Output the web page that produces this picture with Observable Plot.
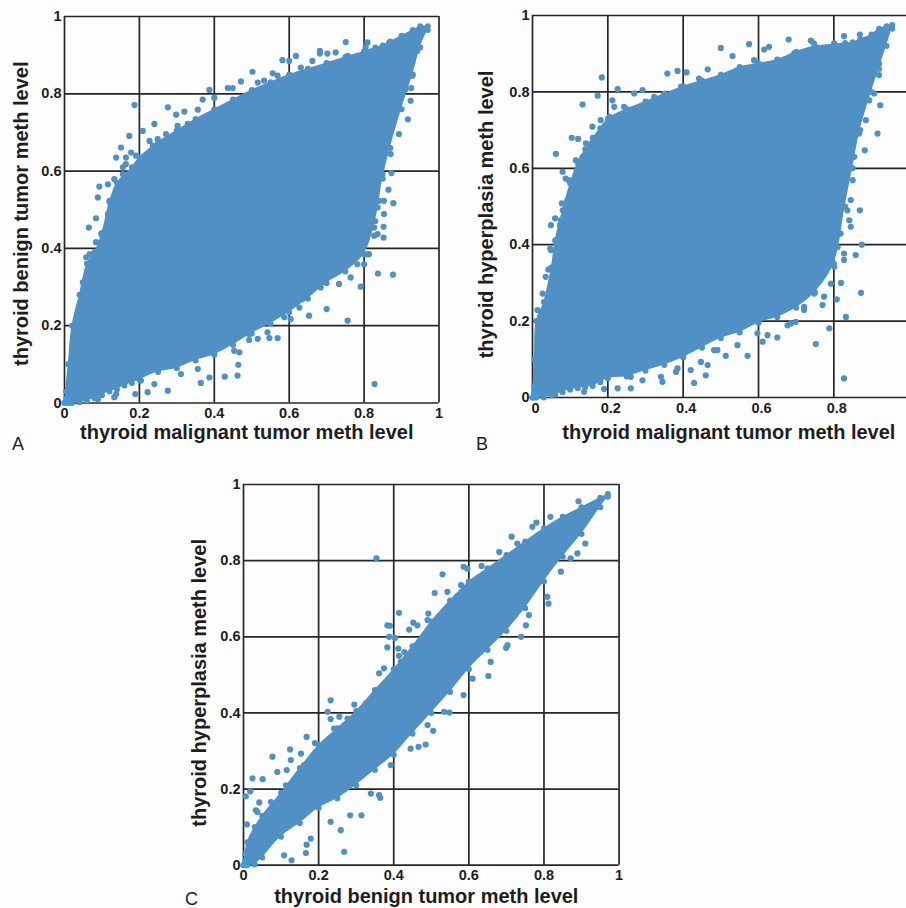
<!DOCTYPE html>
<html><head><meta charset="utf-8">
<script src="https://cdn.jsdelivr.net/npm/d3@7"></script>
<script src="https://cdn.jsdelivr.net/npm/@observablehq/plot@0.6"></script>
<style>
html,body{margin:0;padding:0;background:#fdfdfe;overflow:hidden}
#page{position:relative;width:906px;height:908px;overflow:hidden}
#page svg{position:absolute;background:transparent;overflow:visible}
.tag{position:absolute;font:18px "Liberation Sans",sans-serif;color:#222}
</style></head><body><div id="page"></div>
<script>
const gridTicks=[0,.2,.4,.6,.8,1];
const tickNames=["0","0.2","0.4","0.6","0.8","1"];

// Panel A: cloud envelope
const aX=[0,.01,.02,.04,.06,.08,.1,.12,.14,.16,.18,.2,.25,.3,.35,.4,.45,.5,.55,.6,.65,.7,.75,.8,.83,.85,.87,.9,.93,.95,.97];
const aUp=[0,.1,.2,.28,.36,.39,.44,.52,.57,.59,.61,.635,.675,.705,.735,.76,.785,.81,.83,.85,.865,.88,.895,.91,.92,.925,.935,.95,.965,.975,.975];
const aLo=[0,0,0,.002,.005,.012,.02,.03,.035,.045,.052,.06,.08,.09,.11,.125,.15,.18,.205,.235,.27,.31,.34,.385,.47,.58,.66,.76,.85,.92,.965];
// Panel A: outlying points
const aOutX=[.187,.276,.298,.32,.356,.369,.387,.4,.436,.449,.471,.502,.556,.582,.6,.618,.682,.682,.702,.724,.751,.809,.173,.151,.138,.178,.164,.093,.089,.084,.065,.209,.24,.116,.133,.877,.837,.791,.7,.756,.653,.604,.828,.462,.428,.464,.569,.547,.516,.493,.387,.364,.276,.189,.089,.133,.222,.917,.924,.926,.929,.878,.865,.873,.853,.852,.852,.827,.813,.8];
const aOutY=[.771,.765,.746,.754,.759,.785,.81,.79,.815,.815,.832,.857,.853,.887,.885,.898,.911,.904,.904,.907,.934,.933,.691,.661,.635,.648,.635,.56,.532,.478,.454,.704,.722,.566,.579,.332,.335,.301,.243,.213,.226,.217,.049,.071,.068,.099,.168,.168,.166,.163,.066,.052,.032,.023,.01,.015,.028,.734,.782,.815,.847,.517,.552,.595,.489,.456,.428,.433,.385,.359];
// Panel A: points along the edge of the cloud
const aEdgeX=[.049,.058,.067,.084,.098,.116,.12,.138,.156,.164,.156,.191,.187,.213,.227,.249,.271,.236,.302,.329,.364,.4,.436,.453,.516,.533,.569,.631,.662,.711,.756,.804,.867,.138,.204,.24,.311,.356,.4,.453,.467,.436,.471,.493,.542,.587,.627,.636,.684,.733,.764,.782,.809,.836,.827,.836,.853,.84,.849,.871,.893,.911,.898,.929,.942];
const aEdgeY=[.312,.377,.385,.416,.437,.489,.523,.553,.592,.618,.61,.64,.6,.635,.678,.683,.696,.666,.717,.722,.73,.756,.765,.782,.829,.834,.847,.868,.885,.877,.898,.92,.933,.023,.058,.049,.075,.088,.127,.135,.131,.161,.178,.178,.183,.222,.247,.269,.299,.308,.325,.359,.385,.437,.454,.506,.523,.523,.592,.644,.696,.812,.791,.881,.911];

// Panel B: cloud envelope
const bX=[0,.005,.01,.03,.05,.06,.08,.1,.12,.14,.16,.18,.2,.25,.3,.35,.4,.45,.5,.55,.6,.65,.7,.75,.8,.83,.85,.87,.9,.92,.94,.955];
const bUp=[0,.1,.2,.25,.34,.41,.49,.56,.615,.65,.68,.705,.73,.755,.775,.795,.815,.83,.845,.865,.875,.885,.905,.92,.925,.928,.93,.938,.95,.965,.972,.975];
const bLo=[0,0,0,0,.005,.007,.014,.02,.024,.027,.03,.04,.05,.055,.07,.085,.105,.13,.155,.17,.195,.21,.235,.275,.35,.5,.6,.7,.8,.86,.92,.965];
// Panel B: outlying points
const bOutX=[.184,.173,.133,.104,.121,.062,.08,.088,.097,.078,.06,.049,.073,.047,.042,.226,.27,.292,.358,.385,.409,.465,.5,.531,.575,.615,.628,.68,.739,.796,.827,.869,.923,.916,.882,.869,.874,.858,.819,.872,.808,.832,.788,.752,.827,.65,.611,.571,.513,.491,.465,.46,.429,.381,.345,.261,.226,.19,.137,.699,.677,.77,.721,.013,.845,.836,.827];
const bOutY=[.838,.79,.767,.68,.677,.638,.591,.573,.569,.508,.469,.451,.451,.39,.335,.807,.796,.805,.848,.855,.851,.859,.915,.894,.925,.911,.918,.937,.934,.911,.946,.95,.765,.691,.647,.49,.4,.373,.3,.274,.257,.211,.181,.14,.05,.157,.146,.109,.109,.124,.085,.058,.038,.067,.041,.024,.024,.022,.015,.198,.189,.242,.229,.229,.447,.49,.377];
// Panel B: points along the edge of the cloud
const bEdgeX=[.027,.035,.049,.062,.075,.093,.102,.115,.133,.115,.142,.159,.181,.204,.217,.212,.243,.27,.323,.35,.394,.442,.487,.544,.588,.65,.695,.747,.801,.181,.261,.292,.341,.385,.42,.447,.482,.544,.597,.624,.686,.721,.748,.774,.792,.801,.827,.81,.818,.841,.845,.823,.85,.854,.867,.885,.894,.907,.92,.92];
const bEdgeY=[.272,.316,.386,.412,.464,.517,.534,.578,.63,.621,.665,.709,.726,.735,.761,.778,.761,.752,.787,.791,.813,.835,.826,.857,.883,.883,.901,.927,.927,.05,.054,.045,.054,.076,.072,.093,.124,.137,.168,.163,.194,.237,.272,.264,.298,.342,.36,.394,.429,.464,.517,.534,.569,.63,.691,.726,.778,.796,.844,.874];

// Panel C: cloud envelope
const cX=[0,.01,.03,.05,.1,.15,.2,.25,.3,.35,.4,.45,.5,.55,.6,.65,.7,.75,.8,.85,.9,.95,.97];
const cUp=[0,.06,.1,.13,.19,.255,.315,.36,.405,.46,.515,.575,.64,.695,.745,.78,.815,.85,.885,.915,.94,.965,.975];
const cLo=[0,0,.002,.02,.075,.11,.15,.175,.21,.25,.29,.345,.4,.455,.515,.565,.615,.675,.745,.81,.87,.94,.968];
// Panel C: outlying points
const cOutX=[.354,.53,.509,.414,.383,.39,.388,.403,.383,.412,.414,.441,.452,.463,.492,.586,.634,.714,.78,.817,.892,.91,.889,.812,.752,.739,.699,.652,.586,.548,.505,.485,.466,.364,.314,.284,.259,.268,.166,.128,.168,.232,.224,.232,.168,.124,.077,.126,.153,.09,.115,.024,.051,.018,.006,.009,.042,.033,.295,.255,.19];
const cOutY=[.806,.764,.715,.663,.63,.629,.6,.597,.572,.569,.55,.619,.637,.63,.661,.784,.786,.863,.9,.915,.956,.845,.819,.687,.63,.6,.571,.497,.447,.401,.353,.317,.311,.177,.131,.131,.092,.035,.032,.013,.054,.433,.403,.384,.337,.304,.285,.276,.293,.245,.25,.228,.226,.194,.181,.107,.165,.144,.422,.39,.321];
// Panel C: points along the edge of the cloud
const cEdgeX=[.073,.037,.113,.161,.197,.241,.277,.326,.361,.374,.419,.428,.49,.543,.579,.596,.681,.729,.769,.108,.179,.232,.339,.361,.392,.445,.49,.534,.61,.658,.703,.76,.809,.845,.871];
const cEdgeY=[.166,.14,.21,.263,.298,.359,.385,.425,.504,.517,.534,.56,.644,.718,.736,.779,.823,.845,.889,.026,.07,.114,.188,.184,.263,.306,.368,.403,.49,.534,.578,.657,.705,.771,.806];

// Bright core at the origin, shared by the panels
const coreX=[.001,.004,.008,.003,.012];
const coreY=[.002,.012,.004,.03,.002];

const blue="#5090c5", ink="#262626", font="Liberation Sans";
const page=document.getElementById("page");

function panel(o){
  const table=o.xs.map((x,i)=>({x,up:o.up[i],lo:o.lo[i]}));
  const outs=o.outX.map((x,i)=>({x,y:o.outY[i]})).concat(o.edgeX.map((x,i)=>({x,y:o.edgeY[i]})));
  const core=coreX.map((x,i)=>({x,y:coreY[i]}));
  const left=70, top=20, bottom=50, right=12;
  const fmt=d=>tickNames[gridTicks.indexOf(d)];
  const svg=Plot.plot({
    width:left+o.w+right,height:top+o.h+bottom,
    marginLeft:left,marginRight:right,marginTop:top,marginBottom:bottom,
    style:{background:"transparent",overflow:"visible"},
    x:{domain:[0,1]},y:{domain:[0,1]},
    marks:[
      Plot.ruleX(gridTicks,{stroke:ink,strokeWidth:1.7}),
      Plot.ruleY(gridTicks,{stroke:ink,strokeWidth:1.7}),
      Plot.areaY(table,{x:"x",y1:"lo",y2:"up",fill:blue,curve:"catmull-rom"}),
      Plot.dot(table,{x:"x",y:"up",r:3,fill:blue}),
      Plot.dot(table,{x:"x",y:"lo",r:3,fill:blue}),
      Plot.dot(outs,{x:"x",y:"y",r:3.1,fill:blue}),
      Plot.dot(core,{x:"x",y:"y",r:2.6,fill:"#3f9bd9"}),
      Plot.axisX(gridTicks,{tickSize:0,tickPadding:5,tickFormat:fmt,fontSize:14.5,fontWeight:"bold",
        fontFamily:font,fill:"#1d1d1d",dx:o.xdx||0,label:null}),
      Plot.axisY(gridTicks,{tickSize:0,tickPadding:3,tickFormat:fmt,fontSize:14.5,fontWeight:"bold",
        fontFamily:font,fill:"#1d1d1d",label:null}),
      Plot.text([o.xLabel],{frameAnchor:"bottom",textAnchor:"middle",lineAnchor:"middle",dy:o.xDy,dx:o.xDx,fontSize:20,fontWeight:"bold",
        fontFamily:font,fill:"#1d1d1d"}),
      Plot.text([o.yLabel],{frameAnchor:"left",textAnchor:"middle",lineAnchor:"middle",rotate:-90,dx:o.yDx,dy:o.yDy,fontSize:20,fontWeight:"bold",
        fontFamily:font,fill:"#1d1d1d"})
    ]
  });
  svg.style.left=(o.x0-left)+"px";
  svg.style.top=(o.y0-top)+"px";
  page.appendChild(svg);
  const t=document.createElement("div");
  t.className="tag";t.textContent=o.tag;t.style.left=o.tagX+"px";t.style.top=o.tagY+"px";
  page.appendChild(t);
}
panel({tag:"A",tagX:12,tagY:434,x0:63.5,y0:15.7,w:374.5,h:386.5,xs:aX,up:aUp,lo:aLo,outX:aOutX,outY:aOutY,edgeX:aEdgeX,edgeY:aEdgeY,
  xLabel:"thyroid malignant tumor meth level",yLabel:"thyroid benign tumor meth level",xDy:30,xDx:-5,yDx:-42.5,yDy:4});
panel({tag:"B",tagX:476,tagY:434,x0:531.7,y0:15.3,w:376.7,h:382,xs:bX,up:bUp,lo:bLo,outX:bOutX,outY:bOutY,edgeX:bEdgeX,edgeY:bEdgeY,xdx:3,
  xLabel:"thyroid malignant tumor meth level",yLabel:"thyroid hyperplasia meth level",xDy:35,xDx:8,yDx:-45.7,yDy:8});
panel({tag:"C",tagX:185,tagY:889,x0:242.7,y0:484.3,w:375.6,h:380.7,xs:cX,up:cUp,lo:cLo,outX:cOutX,outY:cOutY,edgeX:cEdgeX,edgeY:cEdgeY,
  xLabel:"thyroid benign tumor meth level",yLabel:"thyroid hyperplasia meth level",xDy:31,xDx:-5,yDx:-43.7,yDy:8});
</script></body></html>
